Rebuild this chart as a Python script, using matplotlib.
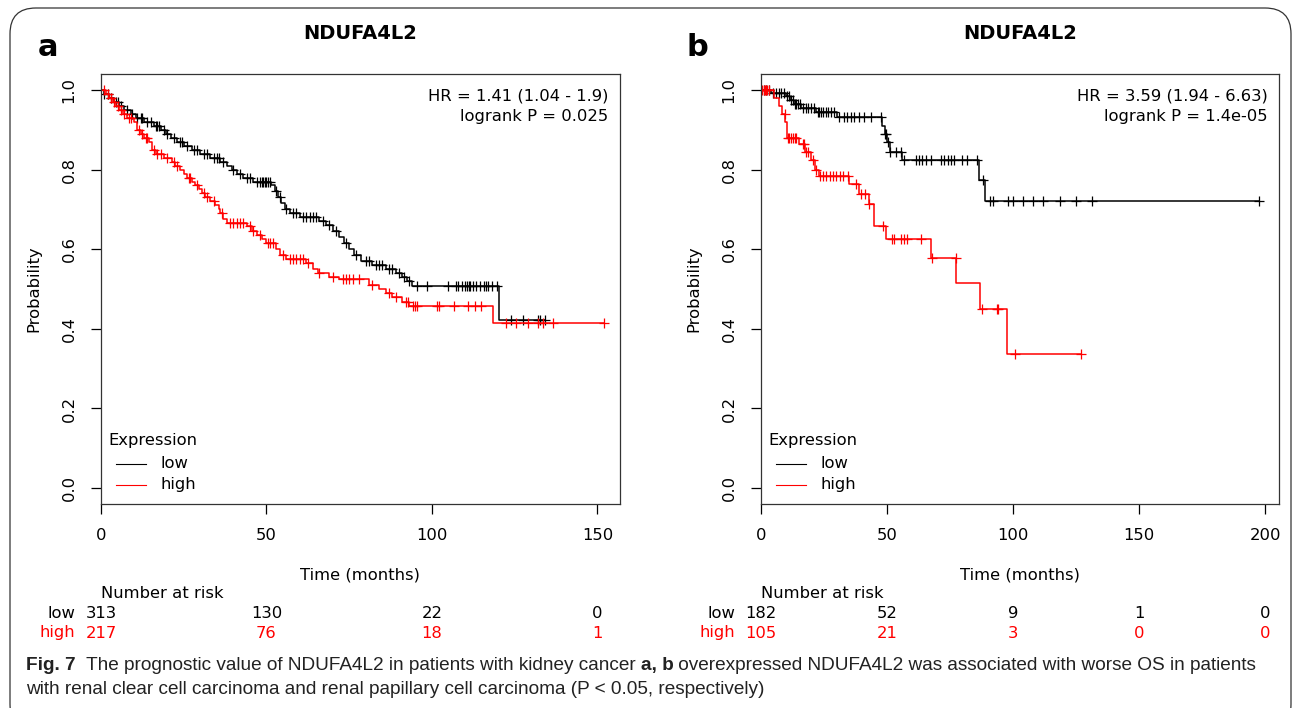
import numpy as np
import matplotlib
matplotlib.use("Agg")
import matplotlib.pyplot as plt
from matplotlib.lines import Line2D
from matplotlib.patches import FancyBboxPatch
from matplotlib.transforms import blended_transform_factory

# ---- panel a: renal clear cell carcinoma ----
a_low_t = [0, 1.0, 2.5, 4, 5.5, 7, 9, 10.5, 13, 16, 18, 19.5, 21, 23, 25, 27.5, 30, 33, 36, 38,
           39.5, 41, 43, 46, 51.5, 52.5, 53.5, 54.5, 55.5, 57, 60, 66, 68, 70, 72, 73.5, 75,
           76.5, 78.5, 82, 86, 89, 91, 92.5, 94, 120.3]
a_low_s = [1.0, 0.99, 0.98, 0.97, 0.96, 0.95, 0.94, 0.93, 0.92, 0.91, 0.90, 0.89, 0.88, 0.87,
           0.86, 0.85, 0.84, 0.83, 0.82, 0.81, 0.80, 0.79, 0.78, 0.77, 0.76, 0.745, 0.73, 0.715,
           0.70, 0.69, 0.68, 0.67, 0.66, 0.645, 0.63, 0.615, 0.60, 0.585, 0.57, 0.56, 0.55, 0.54,
           0.53, 0.52, 0.507, 0.423]
a_low_cens = [1, 2, 3, 4.5, 5, 6, 8, 9.5, 11, 12, 12.5, 14, 15, 16.5, 17, 17.5, 19, 20, 22, 24,
              24.5, 26, 28, 29, 31, 32, 34, 35, 35.5, 37, 40, 42, 44, 45, 47, 48, 48.5, 49,
              49.5, 50, 50.5, 51, 53, 54, 56, 58, 59, 61, 62, 63, 64, 65, 67, 69, 71, 74, 77,
              80, 81, 83, 84, 85, 87, 88, 90, 91.5, 93, 95.4, 98.6, 104.9, 107.3, 108, 109, 110,
              110.7, 111.3, 111.5, 112.3, 113.3, 114.5, 115.7, 116.3, 117, 118, 119.5, 124,
              127.5, 132, 132.6, 134]

a_high_t = [0, 1.5, 2.5, 3.5, 4.5, 5.5, 6.5, 8, 10, 11, 12, 13, 14.5, 15.5, 16.5, 19, 21.5,
            22.5, 24, 25, 26, 27.5, 28.5, 29.5, 30.5, 31.5, 33, 34.5, 35.5, 36, 37, 38, 44,
            45.5, 47, 48.5, 50, 53, 54, 56, 62, 64, 65.5, 69, 72, 81, 84, 86, 88, 91, 93, 118.3]
a_high_s = [1.0, 0.99, 0.98, 0.97, 0.96, 0.95, 0.94, 0.93, 0.92, 0.90, 0.89, 0.88, 0.87, 0.85,
            0.84, 0.83, 0.82, 0.81, 0.80, 0.79, 0.78, 0.77, 0.76, 0.75, 0.74, 0.73, 0.72, 0.71,
            0.70, 0.69, 0.675, 0.667, 0.657, 0.645, 0.635, 0.625, 0.615, 0.60, 0.585, 0.575,
            0.565, 0.55, 0.54, 0.53, 0.525, 0.51, 0.50, 0.49, 0.48, 0.468, 0.457, 0.415]
a_high_cens = [1, 2, 3, 4, 5, 6, 7, 8.5, 9, 11.5, 12.5, 13.5, 14, 16, 17, 18, 20, 22, 23, 26.5,
               27, 29, 31, 32, 34, 36.5, 39, 40, 41, 42, 43, 45, 46, 48, 50.5, 51, 52, 55, 57,
               58, 59, 60, 61, 62.5, 66, 70, 73, 74, 75, 76, 78, 82, 87, 89, 92, 92.8, 94.4,
               94.9, 95.4, 101.4, 102.2, 106.7, 111, 113, 114.8, 122.5, 125.5, 129, 132, 133.5,
               136.5, 152]

a_risk_t = [0, 50, 100, 150]
a_risk_low = [313, 130, 22, 0]
a_risk_high = [217, 76, 18, 1]
a_stats = ["HR = 1.41 (1.04 - 1.9)", "logrank P = 0.025"]

# ---- panel b: renal papillary cell carcinoma ----
b_low_t = [0, 4, 10, 11.5, 13, 16, 22, 30, 48, 49, 50, 51, 56, 86.5, 89]
b_low_s = [1.0, 0.993, 0.985, 0.975, 0.965, 0.955, 0.945, 0.933, 0.91, 0.89, 0.87, 0.845,
           0.825, 0.775, 0.72]
b_low_cens = [1, 2, 3.3, 4.6, 6, 7, 8, 9, 10.4, 11.3, 12, 12.7, 13.4, 14, 14.7, 15.4, 16.5,
              17.8, 18.5, 19.8, 21.2, 22.5, 23.1, 23.8, 24.5, 25.8, 26.5, 27.8, 29.1, 31, 33,
              34.3, 35.6, 36.9, 38.9, 40.9, 43.5, 47.5, 49, 49.6, 50.3, 51, 53.6, 55.6, 56.9,
              61.4, 62.7, 64, 65.3, 67.3, 71.3, 72.6, 74, 75.3, 76.6, 79.9, 81.9, 85.8, 88,
              91, 92, 98, 100, 104, 108, 112, 118.5, 125, 131.5, 197.6]

b_high_t = [0, 5, 7, 8.5, 9.5, 10.5, 15, 17.5, 20, 21.5, 23, 35, 38.9, 42.9, 44.9, 49.6, 67.5,
            77.4, 86.9, 97.5]
b_high_s = [1.0, 0.98, 0.96, 0.94, 0.92, 0.88, 0.865, 0.845, 0.825, 0.80, 0.783, 0.7625,
            0.7375, 0.7125, 0.658, 0.625, 0.577, 0.514, 0.45, 0.3375]
b_high_cens = [0.5, 1, 1.5, 2, 2.5, 3, 9.4, 10.6, 11.3, 12, 12.7, 13.3, 14, 16.5, 17.2, 17.8,
               18.5, 20.5, 22, 23.3, 24.6, 25.9, 27.2, 28.6, 29.9, 31.2, 32.5, 34.5, 37.8,
               39.8, 41.1, 43, 48.4, 52.1, 52.8, 55.4, 56.7, 58.1, 63.4, 67.9, 77.2, 87.6,
               93.5, 94, 100.8, 126.9]

b_risk_t = [0, 50, 100, 150, 200]
b_risk_low = [182, 52, 9, 1, 0]
b_risk_high = [105, 21, 3, 0, 0]
b_stats = ["HR = 3.59 (1.94 - 6.63)", "logrank P = 1.4e-05"]

RED = "#ff0000"
FS = 11.8
W, H = 1295, 708
fig = plt.figure(figsize=(W / 100, H / 100), dpi=100)
plt.rcParams['font.family'] = ['DejaVu Sans']

def fx(px):
    return px / W

def fy(py):
    return 1 - py / H


def km(ax, t, s, cens, color):
    t = np.asarray(t, float)
    s = np.asarray(s, float)
    end = max(cens)
    ax.step(np.append(t, end), np.append(s, s[-1]), where='post', color=color, lw=1.1)
    c = np.asarray(cens, float)
    idx = np.searchsorted(t, c, side='right') - 1
    ax.plot(c, s[idx], ls='none', marker='+', ms=7.5, mew=0.9, color=color)


def panel(x0, x1, xmax, xticks, low, high, stats, risk_t, risk_low, risk_high, letter):
    ax = fig.add_axes([fx(x0), fy(504), fx(x1 - x0), (504 - 74) / H])
    km(ax, *low, 'black')
    km(ax, *high, RED)
    ax.set_xlim(0, xmax)
    ax.set_ylim(-0.04, 1.04)
    ax.set_xticks(xticks)
    ax.set_yticks([0, 0.2, 0.4, 0.6, 0.8, 1.0])
    ax.set_yticklabels(['0.0', '0.2', '0.4', '0.6', '0.8', '1.0'], rotation=90, va='center')
    ax.tick_params(length=7, width=0.9, labelsize=FS, pad=10.5)
    for sp in ax.spines.values():
        sp.set_linewidth(0.9)
        sp.set_color('#333333')
    ax.set_xlabel('Time (months)', fontsize=FS, labelpad=17.5)
    ax.set_ylabel('Probability', fontsize=FS, labelpad=14.5)
    ax.set_title('NDUFA4L2', fontsize=14, fontweight='bold', pad=25)

    # pixel helpers relative to this axes
    axw = x1 - x0
    def ax_x(px):
        return (px - x0) / axw
    def ax_y(py):
        return (504 - py) / 430

    ax.text(ax_x(x0 + 507), ax_y(96), stats[0], transform=ax.transAxes, ha='right',
            va='center', fontsize=FS)
    ax.text(ax_x(x0 + 507), ax_y(116), stats[1], transform=ax.transAxes, ha='right',
            va='center', fontsize=FS)

    # legend (R style: title flush left, keys indented)
    ax.text(ax_x(x0 + 7), ax_y(440), 'Expression', transform=ax.transAxes, ha='left',
            va='center', fontsize=FS)
    for py, name, col in [(464, 'low', 'black'), (485, 'high', RED)]:
        ax.add_line(Line2D([ax_x(x0 + 15), ax_x(x0 + 45)], [ax_y(py)] * 2,
                           transform=ax.transAxes, color=col, lw=0.8))
        ax.text(ax_x(x0 + 60), ax_y(py), name, transform=ax.transAxes, ha='left',
                va='center', fontsize=FS)

    # number-at-risk table under the axes
    px_per_unit = axw / xmax
    tr = blended_transform_factory(ax.transData, fig.transFigure)
    ax.text(0, fy(594), 'Number at risk', transform=tr, ha='left', va='center', fontsize=FS)
    lab_x = -26 / px_per_unit
    ax.text(lab_x, fy(614), 'low', transform=tr, ha='right', va='center', fontsize=FS)
    ax.text(lab_x, fy(633), 'high', transform=tr, ha='right', va='center', fontsize=FS,
            color=RED)
    for t, nl, nh in zip(risk_t, risk_low, risk_high):
        ax.text(t, fy(614), str(nl), transform=tr, ha='center', va='center', fontsize=FS)
        ax.text(t, fy(633), str(nh), transform=tr, ha='center', va='center', fontsize=FS,
                color=RED)
    fig.text(fx(48 if letter == 'a' else 697), fy(47), letter, fontsize=22,
             fontweight='bold', ha='center', va='center')
    return ax


panel(101, 620, 156.8, [0, 50, 100, 150], (a_low_t, a_low_s, a_low_cens),
      (a_high_t, a_high_s, a_high_cens), a_stats, a_risk_t, a_risk_low, a_risk_high, 'a')
panel(761, 1279, 205.5, [0, 50, 100, 150, 200], (b_low_t, b_low_s, b_low_cens),
      (b_high_t, b_high_s, b_high_cens), b_stats, b_risk_t, b_risk_low, b_risk_high, 'b')

# frame around the figure
frame = FancyBboxPatch((fx(10), fy(730)), fx(1281), (730 - 8) / H,
                       boxstyle='round,pad=0,rounding_size=0.02', transform=fig.transFigure,
                       fill=False, ec='#333333', lw=0.9, mutation_aspect=W / H)
fig.add_artist(frame)

# caption with bold pieces
cap_font = ['Liberation Sans Narrow', 'Liberation Sans', 'DejaVu Sans']
cap_size = 13.7
lines = [
    [("Fig. 7", True), ("  The prognostic value of NDUFA4L2 in patients with kidney cancer ", False),
     ("a, b", True), (" overexpressed NDUFA4L2 was associated with worse OS in patients", False)],
    [("with renal clear cell carcinoma and renal papillary cell carcinoma (P < 0.05, respectively)", False)],
]
renderer = fig.canvas.get_renderer()
for row, py in zip(lines, [665, 689]):
    x = 26
    for txt, bold in row:
        t = fig.text(fx(x), fy(py), txt, fontsize=cap_size, family=cap_font,
                     fontweight='bold' if bold else 'normal', ha='left', va='baseline',
                     color='#222222')
        x += t.get_window_extent(renderer).width
        t.set_y(fy(py + 5))

fig.savefig('out.png', dpi=100)
